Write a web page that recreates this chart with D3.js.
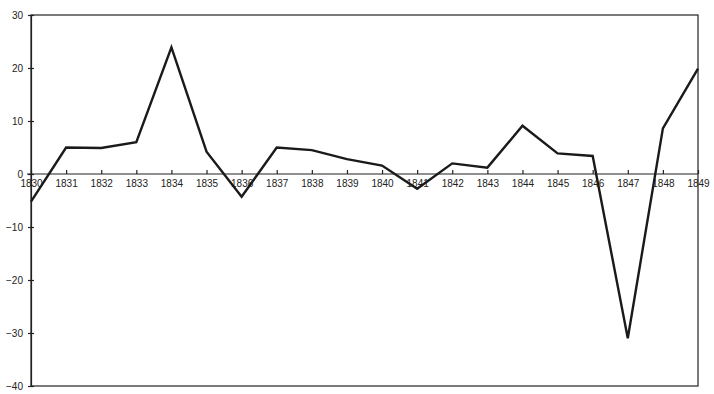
<!DOCTYPE html>
<html>
<head>
<meta charset="utf-8">
<script src="https://cdn.jsdelivr.net/npm/d3@7"></script>
<style>
  body { margin: 0; background: #fff; }
  svg text { font-family: "Liberation Sans", Arial, sans-serif; fill: #222; }
</style>
</head>
<body>
<div id="chart"></div>
<script>
const years = [1830, 1831, 1832, 1833, 1834, 1835, 1836, 1837, 1838, 1839,
               1840, 1841, 1842, 1843, 1844, 1845, 1846, 1847, 1848, 1849];
const values = [-5.2, 5.0, 4.9, 6.0, 23.9, 4.2, -4.3, 5.0, 4.5, 2.8,
                1.6, -2.8, 2.0, 1.2, 9.1, 3.9, 3.4, -31.0, 8.6, 19.9];
const yTicks = [30, 20, 10, 0, -10, -20, -30, -40];

const width = 714, height = 394;
const plotLeft = 31, plotRight = 698, plotTop = 15, plotBottom = 386;

const svg = d3.select("#chart").append("svg")
    .attr("width", width)
    .attr("height", height);

const x = d3.scaleLinear().domain([1830, 1849]).range([plotLeft, plotRight]);
const y = d3.scaleLinear().domain([-40, 30]).range([plotBottom, plotTop]);

// frame (top and right edges)
svg.append("rect")
    .attr("x", plotLeft).attr("y", plotTop)
    .attr("width", plotRight - plotLeft).attr("height", plotBottom - plotTop)
    .attr("fill", "none").attr("stroke", "#222").attr("stroke-width", 1.2);

// y axis
const yAxis = svg.append("g")
    .attr("transform", `translate(${plotLeft},0)`)
    .call(d3.axisLeft(y).tickValues(yTicks).tickSize(4).tickSizeOuter(0)
        .tickFormat(d => d < 0 ? "\u2212" + Math.abs(d) : d));
yAxis.select(".domain").attr("stroke", "#222").attr("stroke-width", 1.2);
yAxis.selectAll(".tick line").attr("stroke", "#222").attr("stroke-width", 1.2)
    .attr("x1", 3).attr("x2", -3);
yAxis.selectAll(".tick text").attr("font-size", 10).attr("x", -8).attr("fill", "#222");

// x axis on the zero line
const xAxis = svg.append("g")
    .attr("transform", `translate(0,${y(0)})`)
    .call(d3.axisBottom(x).tickValues(years).tickSize(4).tickSizeOuter(0)
        .tickFormat(d3.format("d")));
xAxis.select(".domain").attr("stroke", "#222").attr("stroke-width", 1.2)
    .attr("d", `M${plotLeft - 4},0H${plotRight}`);
xAxis.selectAll(".tick line").attr("stroke", "#222").attr("stroke-width", 1.2)
    .attr("y1", -4).attr("y2", 0);
xAxis.selectAll(".tick text").attr("font-size", 10).attr("y", 6).attr("fill", "#222");

// data line
const line = d3.line()
    .x((d, i) => x(years[i]))
    .y(d => y(d));

svg.append("path")
    .datum(values)
    .attr("fill", "none")
    .attr("stroke", "#1a1a1a")
    .attr("stroke-width", 2.4)
    .attr("stroke-linejoin", "miter")
    .attr("d", line);
</script>
</body>
</html>
